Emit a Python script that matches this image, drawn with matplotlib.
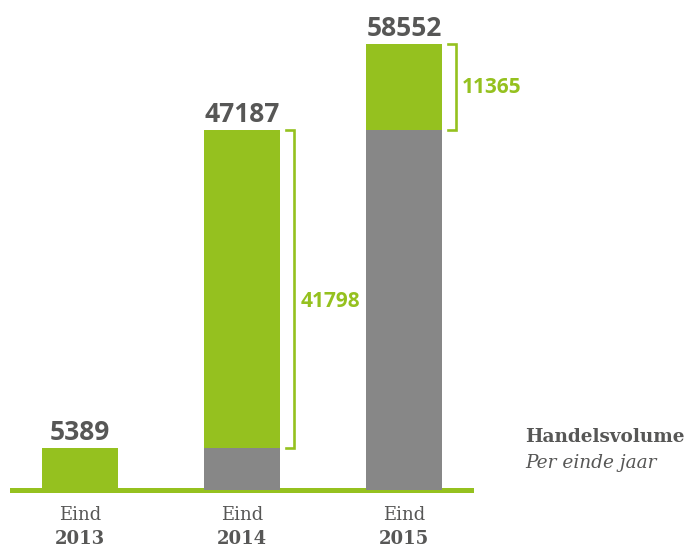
import matplotlib
matplotlib.use("Agg")
import matplotlib.pyplot as plt

# ─── Data ────────────────────────────────────────────────────────────────────
years    = ["2013", "2014", "2015"]
previous = [0, 5389, 47187]        # grey part: volume end of previous year
growth   = [5389, 41798, 11365]    # green part: added during the year
totals   = [p + g for p, g in zip(previous, growth)]

# ─── Colors ──────────────────────────────────────────────────────────────────
GREEN = "#95C11F"
GREY  = "#878787"
TEXT  = "#575756"

W, H = 686, 547
fig = plt.figure(figsize=(W / 100, H / 100), dpi=100, facecolor="white")

# axes placed in pixel terms: baseline at y=489.5, left 12, right 471
ax = fig.add_axes([12 / W, 1 - 489.5 / H, (471 - 12) / W, 489.5 / H])
ax.set_xlim((12 - 80) / 162, (471 - 80) / 162)
ax.set_ylim(0, 489.5 * 58552 / 445.5)

x  = list(range(len(years)))
bw = 76 / 162
px = 1 / 162
ax.bar(x, previous, width=bw, color=GREY, zorder=3)
ax.bar(x, growth, width=bw, bottom=previous, color=GREEN, zorder=3)

# totals on top
for xi, t in zip(x, totals):
    ax.annotate(f"{t}", (xi, t), xytext=(0, 6), textcoords="offset points",
                ha="center", va="baseline", color=TEXT, fontsize=19,
                fontweight="bold", family="Open Sans", zorder=4)

# brackets with growth label for the stacked bars
label_shift = [0, -12, 0]   # px, vertical nudge of the bracket label
for xi, p, g, dy in zip(x, previous, growth, label_shift):
    if p == 0:
        continue
    x0 = xi + bw / 2 + 6 * px
    x1 = xi + bw / 2 + 14 * px
    ax.plot([x0, x1, x1, x0], [p + g, p + g, p, p], color=GREEN,
            linewidth=1.9, solid_joinstyle="miter", clip_on=False)
    ax.annotate(f"{g}", (x1, p + g / 2), xytext=(4.5, dy * 0.72),
                textcoords="offset points", ha="left", va="center",
                color=GREEN, fontsize=15, fontweight="bold",
                family="Open Sans")

# axes styling
for s in ["top", "right", "left"]:
    ax.spines[s].set_visible(False)
ax.spines["bottom"].set_color(GREEN)
ax.spines["bottom"].set_linewidth(3.6)
ax.set_yticks([])
ax.set_xticks([])

# category labels
trans = ax.get_xaxis_transform()
for xi, yr in zip(x, years):
    ax.text(xi, -26 / 489.5, "Eind", transform=trans, ha="center",
            va="center", color=TEXT, fontsize=13, family="DejaVu Serif")
    ax.text(xi, -49 / 489.5, yr, transform=trans, ha="center",
            va="center", color=TEXT, fontsize=13, fontweight="bold",
            family="DejaVu Serif")

# side caption
fig.text(525 / W, 1 - 437 / H, "Handelsvolume", ha="left", va="center",
         color=TEXT, fontsize=13.3, fontweight="bold", family="DejaVu Serif")
fig.text(525 / W, 1 - 463 / H, "Per einde jaar", ha="left", va="center",
         color=TEXT, fontsize=13.3, style="italic", family="DejaVu Serif")

fig.savefig("out.png", dpi=100, facecolor="white")
